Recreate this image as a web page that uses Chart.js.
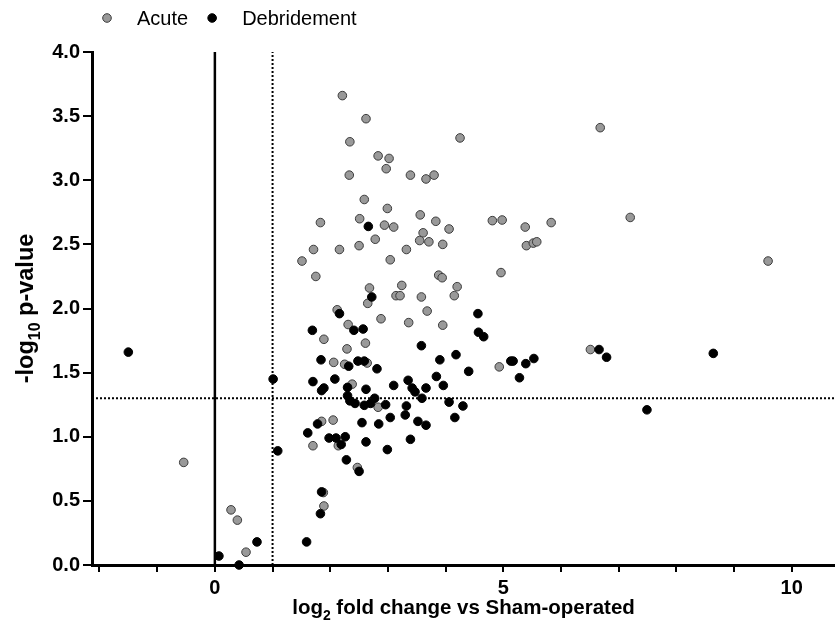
<!DOCTYPE html>
<html>
<head>
<meta charset="utf-8">
<script src="https://cdn.jsdelivr.net/npm/chart.js@4/dist/chart.umd.min.js"></script>
<style>
  html, body { margin: 0; padding: 0; background: #fff; }
</style>
</head>
<body>
<canvas id="volcano" width="835" height="628"></canvas>
<script>
// ── Datos: log2 fold change (x) y -log10 p-value (y) ─────────────────────────
const acuteX = [-0.54,0.28,0.39,0.54,2.21,2.34,2.33,1.83,1.71,2.16,1.51,1.75,2.12,2.31,1.89,2.29,2.06,2.25,1.85,2.05,
                1.70,2.14,1.88,1.89,2.62,4.25,2.83,3.02,2.97,3.39,3.66,3.80,2.59,2.99,2.51,2.94,3.10,3.56,3.83,4.06,
                3.61,2.78,3.55,3.71,3.95,2.50,3.32,4.81,4.98,5.38,5.40,5.52,5.58,3.04,4.96,3.88,3.94,2.68,2.65,3.24,
                3.14,3.21,3.58,4.20,4.15,3.68,2.88,3.36,3.95,2.61,2.64,4.93,2.38,2.83,2.47,6.68,5.83,7.20,9.59,6.51];
const acuteY = [0.80,0.43,0.35,0.10,3.66,3.30,3.04,2.67,2.46,2.46,2.37,2.25,1.99,1.875,1.76,1.685,1.58,1.565,1.12,1.13,
                0.93,0.93,0.565,0.46,3.48,3.33,3.19,3.17,3.09,3.04,3.01,3.04,2.85,2.78,2.70,2.65,2.635,2.73,2.68,2.62,
                2.59,2.54,2.53,2.52,2.50,2.49,2.46,2.685,2.69,2.635,2.49,2.51,2.52,2.38,2.28,2.26,2.24,2.16,2.04,2.18,
                2.10,2.10,2.09,2.17,2.10,1.98,1.92,1.89,1.87,1.73,1.575,1.545,1.41,1.23,0.76,3.41,2.67,2.71,2.37,1.68];

const debrX = [-1.50,0.07,0.42,0.73,2.16,1.69,1.84,2.32,1.01,1.70,2.08,1.89,1.85,2.30,2.30,1.78,1.61,1.98,2.10,2.26,
               2.19,1.09,2.28,1.85,1.83,1.59,2.66,2.72,4.56,2.41,2.57,4.57,4.66,3.58,3.90,4.18,2.48,2.59,2.81,4.40,
               5.13,5.17,5.53,5.39,5.28,3.84,3.96,3.35,3.42,3.47,3.66,3.10,2.62,2.34,2.43,2.59,2.70,2.77,2.96,3.59,
               4.06,3.32,4.30,3.30,3.52,3.66,3.04,2.84,2.55,4.16,2.62,3.39,2.99,2.50,6.66,6.79,8.64,7.49];
const debrY = [1.66,0.07,0.0,0.18,1.96,1.83,1.60,1.55,1.45,1.43,1.45,1.38,1.36,1.385,1.32,1.10,1.03,0.99,0.99,1.00,
               0.94,0.89,0.82,0.57,0.40,0.18,2.64,2.09,1.96,1.83,1.84,1.815,1.78,1.71,1.60,1.64,1.59,1.59,1.53,1.51,
               1.59,1.59,1.61,1.57,1.46,1.47,1.40,1.44,1.38,1.35,1.38,1.40,1.37,1.28,1.26,1.245,1.26,1.30,1.25,1.30,
               1.27,1.24,1.24,1.17,1.12,1.09,1.15,1.10,1.11,1.15,0.96,0.98,0.90,0.73,1.68,1.62,1.65,1.21];

// Umbrales y ejes
const pThreshold   = 1.3;   // -log10(0.05)
const fcThreshold  = 1;     // log2 FC = 1
const xMin = -2.13, xMax = 10.75;
const yMin = 0, yMax = 4;
const xLabeled = [0, 5, 10];

const FONT = "'Liberation Sans', Arial, sans-serif";

function toPoints(xs, ys) {
    return xs.map((x, i) => ({ x: x, y: ys[i] }));
}

// ── Plugin: líneas de referencia ─────────────────────────────────────────────
const refLines = {
    id: 'refLines',
    beforeDatasetsDraw(chart) {
        const { ctx, chartArea: a, scales: { x, y } } = chart;
        ctx.save();
        ctx.strokeStyle = '#000';
        // x = 0 sólida
        ctx.lineWidth = 2.5;
        ctx.beginPath();
        ctx.moveTo(x.getPixelForValue(0), y.getPixelForValue(yMin));
        ctx.lineTo(x.getPixelForValue(0), y.getPixelForValue(yMax));
        ctx.stroke();
        // punteadas
        ctx.lineWidth = 2;
        ctx.setLineDash([2, 2]);
        ctx.beginPath();
        ctx.moveTo(x.getPixelForValue(fcThreshold), y.getPixelForValue(yMin));
        ctx.lineTo(x.getPixelForValue(fcThreshold), y.getPixelForValue(yMax));
        ctx.moveTo(a.left, y.getPixelForValue(pThreshold));
        ctx.lineTo(a.right, y.getPixelForValue(pThreshold));
        ctx.stroke();
        ctx.restore();
    }
};

// texto con subíndice
function measureSubText(ctx, parts, size) {
    let w = 0;
    parts.forEach(([t, sub]) => {
        ctx.font = 'bold ' + (sub ? size * 0.68 : size) + 'px ' + FONT;
        w += ctx.measureText(t).width;
    });
    return w;
}
function fillSubText(ctx, parts, size, x0, y0) {
    let x = x0;
    parts.forEach(([t, sub]) => {
        ctx.font = 'bold ' + (sub ? size * 0.68 : size) + 'px ' + FONT;
        ctx.fillText(t, x, sub ? y0 + size * 0.28 : y0);
        x += ctx.measureText(t).width;
    });
}

// ── Plugin: títulos de ejes y leyenda ────────────────────────────────────────
const decor = {
    id: 'decor',
    afterDraw(chart) {
        const { ctx, chartArea: a } = chart;
        ctx.save();
        ctx.fillStyle = '#000';
        ctx.textBaseline = 'alphabetic';

        // título eje X
        const xt = [['log', false], ['2', true], [' fold change vs Sham-operated', false]];
        const wx = measureSubText(ctx, xt, 20.5);
        fillSubText(ctx, xt, 20.5, (a.left + a.right) / 2 - wx / 2, 614);

        // título eje Y
        const yt = [['-log', false], ['10', true], [' p-value', false]];
        const wy = measureSubText(ctx, yt, 23.5);
        ctx.translate(33, (a.top + a.bottom) / 2);
        ctx.rotate(-Math.PI / 2);
        fillSubText(ctx, yt, 23.5, -wy / 2, 0);
        ctx.setTransform(1, 0, 0, 1, 0, 0);

        // leyenda
        let lx = 107;
        const ly = 18;
        ctx.font = '20px ' + FONT;
        ctx.textBaseline = 'middle';
        chart.data.datasets.slice().sort((p, q) => p.legendIndex - q.legendIndex).forEach(ds => {
            ctx.beginPath();
            ctx.arc(lx, ly, 4.3, 0, Math.PI * 2);
            ctx.fillStyle = ds.backgroundColor;
            ctx.fill();
            ctx.lineWidth = 1;
            ctx.strokeStyle = ds.borderColor;
            ctx.stroke();
            ctx.fillStyle = '#000';
            ctx.fillText(ds.label, lx + 30, ly + 1);
            lx += 30 + ctx.measureText(ds.label).width + 24;
        });
        ctx.restore();
    }
};

const chart = new Chart(document.getElementById('volcano').getContext('2d'), {
    type: 'scatter',
    data: {
        datasets: [
            {
                label: 'Acute',
                legendIndex: 0,
                data: toPoints(acuteX, acuteY),
                backgroundColor: '#999999',
                borderColor: '#3c3c3c',
                pointRadius: 4.3,
                pointBorderWidth: 1,
                clip: false,
                order: 2
            },
            {
                label: 'Debridement',
                legendIndex: 1,
                data: toPoints(debrX, debrY),
                backgroundColor: '#000000',
                borderColor: '#000000',
                pointRadius: 4.3,
                pointBorderWidth: 1,
                clip: false,
                order: 1
            }
        ]
    },
    options: {
        responsive: false,
        animation: false,
        layout: { autoPadding: false, padding: { top: 52, left: 0, right: 0, bottom: 0 } },
        plugins: { legend: { display: false }, tooltip: { enabled: false } },
        scales: {
            x: {
                type: 'linear',
                min: xMin,
                max: xMax,
                afterFit: (s) => { s.height = 63; },
                border: { display: true, color: '#000', width: 3 },
                grid: { drawOnChartArea: false, color: '#000', lineWidth: 2, tickLength: 7 },
                ticks: {
                    stepSize: 1,
                    autoSkip: false,
                    includeBounds: false,
                    maxRotation: 0,
                    padding: 4,
                    color: '#000',
                    font: { family: FONT, size: 20, weight: 'bold' },
                    callback: (v) => xLabeled.includes(v) ? String(v) : ''
                }
            },
            y: {
                type: 'linear',
                min: yMin,
                max: yMax,
                afterFit: (s) => { s.width = 92; },
                border: { display: true, color: '#000', width: 3 },
                grid: { drawOnChartArea: false, color: '#000', lineWidth: 2, tickLength: 9 },
                ticks: {
                    stepSize: 0.5,
                    padding: 3,
                    color: '#000',
                    font: { family: FONT, size: 20, weight: 'bold' },
                    callback: (v) => v.toFixed(1)
                }
            }
        }
    },
    plugins: [refLines, decor]
});
</script>
</body>
</html>
